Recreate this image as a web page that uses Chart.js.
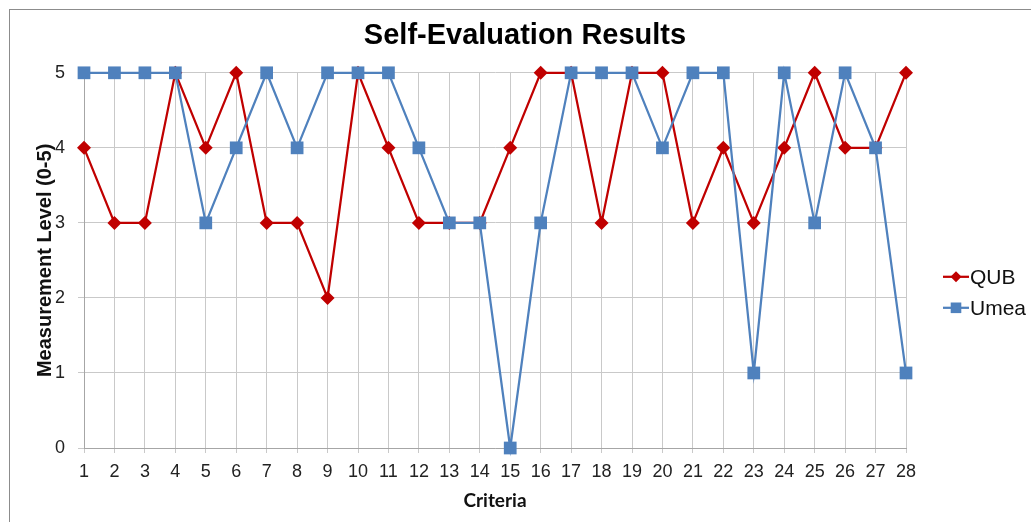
<!DOCTYPE html>
<html lang="en">
<head>
    <meta charset="UTF-8">
    <title>Self-Evaluation Results</title>
    <style>
        body {
            margin: 0;
            background: #fff;
            overflow: hidden;
        }
        #frame {
            position: absolute;
            left: 9px;
            top: 9px;
            width: 1100px;
            height: 600px;
            border: 1px solid #8c8c8c;
        }
        #chartBox {
            position: absolute;
            left: 0;
            top: 0;
            width: 1031px;
            height: 522px;
        }
    </style>
    <script src="https://cdn.jsdelivr.net/npm/chart.js"></script>
</head>
<body>
    <div id="frame"></div>
    <div id="chartBox">
        <canvas id="evalChart" width="1031" height="522"></canvas>
    </div>

    <script>
        // Criterios 1..28
        const criteria = ['1', '2', '3', '4', '5', '6', '7', '8', '9', '10', '11', '12', '13', '14',
                          '15', '16', '17', '18', '19', '20', '21', '22', '23', '24', '25', '26', '27', '28'];

        const qubScores  = [4, 3, 3, 5, 4, 5, 3, 3, 2, 5, 4, 3, 3, 3, 4, 5, 5, 3, 5, 5, 3, 4, 3, 4, 5, 4, 4, 5];
        const umeaScores = [5, 5, 5, 5, 3, 4, 5, 4, 5, 5, 5, 4, 3, 3, 0, 3, 5, 5, 5, 4, 5, 5, 1, 5, 3, 5, 4, 1];

        const levelTicks = [0, 1, 2, 3, 4, 5];

        const RED = '#c00000';
        const BLUE = '#4f81bd';
        const GRID = '#c9c9c9';
        const AXIS = '#a6a6a6';

        // Legenda desenhada à mão (linha + marcador, como no Excel)
        const lineLegend = {
            id: 'lineLegend',
            afterDraw(chart) {
                const ctx = chart.ctx;
                const area = chart.chartArea;
                const items = [
                    { label: 'QUB', color: RED, style: 'rectRot', radius: 5.5 },
                    { label: 'Umea', color: BLUE, style: 'rect', radius: 7.5 }
                ];
                ctx.save();
                items.forEach((item, i) => {
                    const y = area.top + 204 + i * 31;
                    const x0 = area.right + 37;
                    ctx.strokeStyle = item.color;
                    ctx.lineWidth = 2.25;
                    ctx.beginPath();
                    ctx.moveTo(x0, y);
                    ctx.lineTo(x0 + 26, y);
                    ctx.stroke();
                    ctx.fillStyle = item.color;
                    Chart.helpers.drawPoint(ctx, {
                        pointStyle: item.style, radius: item.radius, rotation: 0, borderWidth: 0
                    }, x0 + 13, y);
                    ctx.fillStyle = '#111';
                    ctx.font = '21px "Liberation Sans", Arial, sans-serif';
                    ctx.textAlign = 'left';
                    ctx.textBaseline = 'middle';
                    ctx.fillText(item.label, x0 + 27, y + 1);
                });
                ctx.restore();
            }
        };

        const ctx = document.getElementById('evalChart').getContext('2d');
        new Chart(ctx, {
            type: 'line',
            data: {
                labels: criteria,
                datasets: [
                    {
                        label: 'QUB',
                        data: qubScores,
                        borderColor: RED,
                        backgroundColor: RED,
                        borderWidth: 2.25,
                        pointStyle: 'rectRot',
                        pointRadius: 7,
                        pointBorderWidth: 0,
                        tension: 0,
                        clip: false,
                        order: 1
                    },
                    {
                        label: 'Umea',
                        data: umeaScores,
                        borderColor: BLUE,
                        backgroundColor: BLUE,
                        borderWidth: 2.25,
                        pointStyle: 'rect',
                        pointRadius: 9,
                        pointBorderWidth: 0,
                        tension: 0,
                        clip: false,
                        order: 0
                    }
                ]
            },
            options: {
                responsive: false,
                animation: false,
                layout: { padding: { left: 19, right: 0, top: 0, bottom: 0 } },
                plugins: {
                    legend: { display: false },
                    tooltip: { enabled: false },
                    title: {
                        display: true,
                        text: 'Self-Evaluation Results',
                        color: '#000',
                        font: { family: '"Liberation Sans", Arial, sans-serif', size: 29, weight: 'bold' },
                        padding: { top: 19, bottom: 19 }
                    }
                },
                scales: {
                    x: {
                        offset: false,
                        afterFit: (scale) => { scale.height = 74; },
                        grid: { color: GRID, tickLength: 5, tickColor: GRID },
                        border: { color: AXIS },
                        ticks: {
                            color: '#222',
                            autoSkip: false,
                            maxRotation: 0,
                            padding: 8,
                            font: { family: '"Liberation Sans", Arial, sans-serif', size: 18 }
                        },
                        title: {
                            display: true,
                            text: 'Criteria',
                            color: '#111',
                            font: { family: 'Lato, sans-serif', size: 19, weight: 'bold' },
                            padding: { top: 0, bottom: 10 }
                        }
                    },
                    y: {
                        min: 0,
                        max: 5,
                        afterFit: (scale) => { scale.width = 65; },
                        afterBuildTicks: (scale) => {
                            scale.ticks = levelTicks.map(v => ({ value: v }));
                        },
                        grid: { color: GRID, tickLength: 6, tickColor: GRID },
                        border: { color: AXIS },
                        ticks: {
                            color: '#222',
                            padding: 13,
                            font: { family: '"Liberation Sans", Arial, sans-serif', size: 18 }
                        },
                        title: {
                            display: true,
                            text: 'Measurement Level (0-5)',
                            color: '#111',
                            font: { family: '"Liberation Sans", Arial, sans-serif', size: 20, weight: 'bold' },
                            padding: { top: 14, bottom: 0 }
                        }
                    },
                    legendSpace: {
                        type: 'linear',
                        position: 'right',
                        display: true,
                        afterFit: (scale) => { scale.width = 125; },
                        grid: { display: false },
                        border: { display: false },
                        ticks: { display: false }
                    }
                }
            },
            plugins: [lineLegend]
        });
    </script>
</body>
</html>
